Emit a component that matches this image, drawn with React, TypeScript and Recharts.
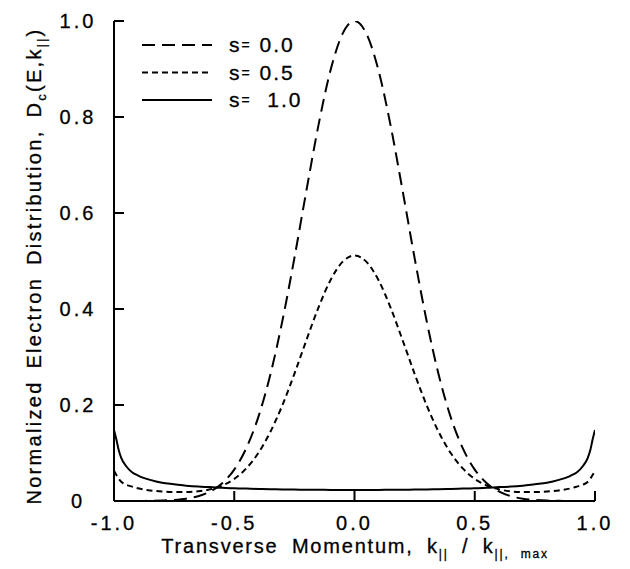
import React from 'react';
import { LineChart, Line, XAxis, YAxis } from 'recharts';

const kValues = [
  -1, -0.99, -0.98, -0.97, -0.95, -0.925, -0.9, -0.85, -0.8, -0.75, -0.7, -0.65, -0.6, -0.55, -0.5,
  -0.45, -0.4, -0.35, -0.3, -0.25, -0.2, -0.15, -0.1, -0.05, 0, 0.05, 0.1, 0.15, 0.2, 0.25, 0.3,
  0.35, 0.4, 0.45, 0.5, 0.55, 0.6, 0.65, 0.7, 0.75, 0.8, 0.85, 0.9, 0.925, 0.95, 0.97, 0.98, 0.99, 1,
];

const s00 = [
  0, 0, 0, 0, 0, 0, 0.0001, 0.0004, 0.0009, 0.0022, 0.0048, 0.01, 0.0198, 0.037, 0.0655,
  0.11, 0.1748, 0.2631, 0.3749, 0.506, 0.6466, 0.7825, 0.8967, 0.9731, 1, 0.9731, 0.8967, 0.7825, 0.6466, 0.506, 0.3749,
  0.2631, 0.1748, 0.11, 0.0655, 0.037, 0.0198, 0.01, 0.0048, 0.0022, 0.0009, 0.0004, 0.0001, 0, 0, 0, 0, 0, 0,
];

const s05 = [
  0.063, 0.054, 0.046, 0.04, 0.034, 0.03, 0.0264, 0.0221, 0.0196, 0.0185, 0.0185, 0.0202, 0.0243, 0.0323, 0.0461,
  0.0679, 0.0999, 0.1439, 0.1995, 0.2649, 0.3351, 0.4029, 0.4599, 0.4981, 0.5115, 0.4981, 0.4599, 0.4029, 0.3351, 0.2649, 0.1995,
  0.1439, 0.0999, 0.0679, 0.0461, 0.0323, 0.0243, 0.0202, 0.0185, 0.0185, 0.0196, 0.0221, 0.0264, 0.03, 0.034, 0.04, 0.046, 0.054, 0.063,
];

const s10 = [
  0.148, 0.128, 0.105, 0.09, 0.073, 0.06, 0.053, 0.044, 0.038, 0.035, 0.032, 0.03, 0.029, 0.0275, 0.0266,
  0.0258, 0.0251, 0.0246, 0.0241, 0.0238, 0.0235, 0.0233, 0.0231, 0.023, 0.023, 0.023, 0.0231, 0.0233, 0.0235, 0.0238, 0.0241,
  0.0246, 0.0251, 0.0258, 0.0266, 0.0275, 0.029, 0.03, 0.032, 0.035, 0.038, 0.044, 0.053, 0.06, 0.073, 0.09, 0.105, 0.128, 0.148,
];

const xTicks = [-1, -0.5, 0, 0.5, 1];
const yTicks = [0, 0.2, 0.4, 0.6, 0.8, 1];
const legendLabels = ['0.0', '0.5', ' 1.0'];
const dashes = ['13 7', '6 4', ''];

const data = kValues.map((k, i) => ({ k, s00: s00[i], s05: s05[i], s10: s10[i] }));

const FONT = "'Liberation Sans', Arial, Helvetica, sans-serif";

export default function App() {
  const tickStyle = {
    fill: '#000',
    stroke: '#000',
    strokeWidth: 0.3,
    fontSize: 20,
    fontFamily: FONT,
    letterSpacing: 3,
  };
  return (
    <div style={{ position: 'absolute', left: 0, top: 0, width: 630, height: 569, background: '#fff' }}>
      <LineChart
        width={630}
        height={569}
        data={data}
        margin={{ top: 21, right: 35, bottom: 18, left: 54 }}
      >
        <XAxis
          dataKey="k"
          type="number"
          domain={[-1, 1]}
          ticks={xTicks}
          allowDataOverflow
          height={50}
          tickSize={-10}
          tickMargin={25}
          tickFormatter={(v: number) => v.toFixed(1)}
          tick={tickStyle}
          axisLine={{ stroke: '#000', strokeWidth: 2 }}
          tickLine={{ stroke: '#000', strokeWidth: 2 }}
        />
        <YAxis
          type="number"
          domain={[0, 1]}
          ticks={yTicks}
          allowDataOverflow
          width={60}
          tickSize={-10}
          tickMargin={46}
          tickFormatter={(v: number) => (v === 0 ? '0' : v.toFixed(1))}
          tick={{ ...tickStyle, textAnchor: 'middle' }}
          axisLine={{ stroke: '#000', strokeWidth: 2 }}
          tickLine={{ stroke: '#000', strokeWidth: 2 }}
        />
        <Line dataKey="s00" type="monotone" stroke="#000" strokeWidth={2} strokeDasharray={dashes[0]} dot={false} isAnimationActive={false} />
        <Line dataKey="s05" type="monotone" stroke="#000" strokeWidth={2} strokeDasharray={dashes[1]} dot={false} isAnimationActive={false} />
        <Line dataKey="s10" type="monotone" stroke="#000" strokeWidth={2} dot={false} isAnimationActive={false} />
      </LineChart>
      <svg width={630} height={569} style={{ position: 'absolute', left: 0, top: 0, pointerEvents: 'none' }}>
        {legendLabels.map((lab, i) => (
          <g key={i}>
            <line x1={142} x2={212} y1={45 + i * 27.5} y2={45 + i * 27.5} stroke="#000" strokeWidth={2} strokeDasharray={dashes[i] || undefined} />
            <text x={229} y={52 + i * 27.5} fontSize={21} fontFamily={FONT} fill="#000" stroke="#000" strokeWidth={0.3} letterSpacing={2} style={{ whiteSpace: 'pre' }}>
              s<tspan fontSize={14} dy={-2}>=</tspan><tspan dy={2}>{' ' + lab}</tspan>
            </text>
          </g>
        ))}
        <text
          transform="translate(41, 266) rotate(-90)"
          textAnchor="middle"
          fontSize={20}
          fontFamily={FONT}
          fill="#000"
          stroke="#000"
          strokeWidth={0.3}
          letterSpacing={2.3}
          wordSpacing={4}
          style={{ whiteSpace: 'pre' }}
        >
          Normalized Electron Distribution, D<tspan fontSize={13} dy={5}>c</tspan>
          <tspan dy={-5}>(E,k</tspan><tspan fontSize={12} dy={5}>||</tspan><tspan dy={-5}>)</tspan>
        </text>
        <text
          x={355}
          y={553}
          textAnchor="middle"
          fontSize={20}
          fontFamily={FONT}
          fill="#000"
          stroke="#000"
          strokeWidth={0.3}
          letterSpacing={1.8}
          wordSpacing={6}
          style={{ whiteSpace: 'pre' }}
        >
          Transverse Momentum, k<tspan fontSize={12} dy={5}>||</tspan>
          <tspan dy={-5}>{' / k'}</tspan><tspan fontSize={12} dy={5}>||, max</tspan>
        </text>
      </svg>
    </div>
  );
}
